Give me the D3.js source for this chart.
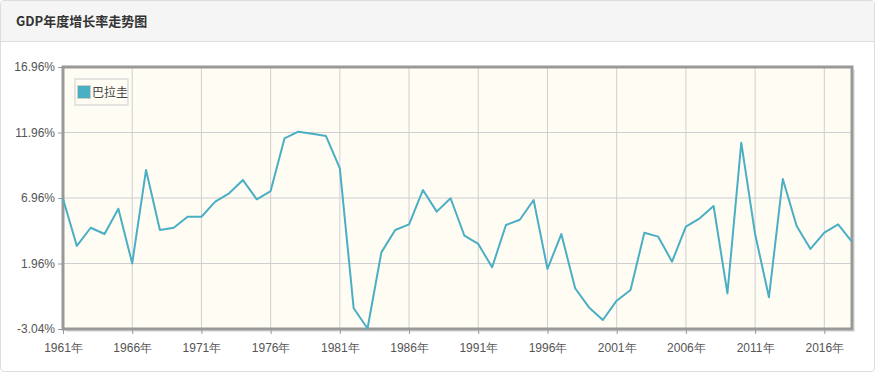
<!DOCTYPE html>
<html>
<head>
<meta charset="utf-8">
<script src="https://cdn.jsdelivr.net/npm/d3@7"></script>
<style>
  body { margin: 0; background: #fff; }
  .panel {
    position: absolute; left: 0; top: 0; width: 873px; height: 370px;
    border: 1px solid #ddd; border-radius: 4px; overflow: hidden; background: #fff;
  }
  .head {
    height: 40px; background: #f5f5f5; border-bottom: 1px solid #ddd;
    font: bold 13px "Noto Sans CJK SC", sans-serif; color: #333;
    line-height: 40px; padding-left: 15px;
  }
  svg { position: absolute; left: 0; top: 0; }
</style>
</head>
<body>
<div class="panel">
  <div class="head">GDP年度增长率走势图</div>
</div>
<script>
// Données : taux de croissance du PIB (%), 1961-2018
const years = d3.range(1961, 2019);
const growth = [6.9, 3.3, 4.69, 4.21, 6.14, 1.97, 9.1, 4.52, 4.69, 5.53,
  5.53, 6.68, 7.32, 8.33, 6.86, 7.49, 11.51, 12.02, 11.86, 11.69,
  9.22, -1.46, -3.0, 2.81, 4.52, 4.95, 7.57, 5.92, 6.94, 4.08,
  3.45, 1.67, 4.9, 5.3, 6.81, 1.54, 4.21, 0.07, -1.39, -2.35,
  -0.88, -0.06, 4.31, 4.01, 2.1, 4.77, 5.41, 6.35, -0.32, 11.18,
  4.21, -0.62, 8.41, 4.82, 3.07, 4.31, 4.95, 3.62];
const yTicks = [-3.04, 1.96, 6.96, 11.96, 16.96];
const xTicks = d3.range(1961, 2019, 5);
const seriesName = "巴拉圭";

const margin = {top: 67, right: 23, bottom: 43, left: 63},
    W = 875, H = 372,
    width = W - margin.left - margin.right,
    height = H - margin.top - margin.bottom;

const svg = d3.select("body").append("svg")
    .attr("width", W).attr("height", H)
    .style("font-family", "'Noto Sans CJK SC', sans-serif");

const g = svg.append("g").attr("transform", `translate(${margin.left},${margin.top})`);

const x = d3.scaleLinear().domain([1961, 2018]).range([0, width]);
const y = d3.scaleLinear().domain([-3.04, 16.96]).range([height, 0]);

// ombre + fond
g.append("rect").attr("x", 3).attr("y", 3).attr("width", width).attr("height", height)
    .attr("fill", "#e6e6e6");
g.append("rect").attr("width", width).attr("height", height).attr("fill", "#fffcf4");

// grille
g.selectAll(".vg").data(xTicks).join("line")
    .attr("x1", d => x(d)).attr("x2", d => x(d))
    .attr("y1", 0).attr("y2", height)
    .attr("stroke", "#cfcfcf").attr("stroke-width", 1);
g.selectAll(".hg").data(yTicks).join("line")
    .attr("x1", 0).attr("x2", width)
    .attr("y1", d => y(d)).attr("y2", d => y(d))
    .attr("stroke", "#cfcfcf").attr("stroke-width", 1);

// axes
const yAxis = g.append("g").call(d3.axisLeft(y).tickValues(yTicks)
    .tickFormat(d => d.toFixed(2) + "%").tickSize(5).tickPadding(3));
const xAxis = g.append("g").attr("transform", `translate(0,${height})`)
    .call(d3.axisBottom(x).tickValues(xTicks).tickFormat(d => d + "年").tickSize(5).tickPadding(9));
[yAxis, xAxis].forEach(a => {
  a.select(".domain").remove();
  a.selectAll("line").attr("stroke", "#999");
  a.selectAll("text").attr("fill", "#555").style("font-size", "12px");
});

// cadre
g.append("rect").attr("width", width).attr("height", height)
    .attr("fill", "none").attr("stroke", "#999").attr("stroke-width", 3);

// courbe
const line = d3.line().x((d, i) => x(years[i])).y(d => y(d));
g.append("path").datum(growth)
    .attr("d", line).attr("fill", "none")
    .attr("stroke", "#4aafc4").attr("stroke-width", 2)
    .attr("stroke-linejoin", "round");

// légende
const lg = g.append("g").attr("transform", "translate(12,12)");
lg.append("rect").attr("width", 53).attr("height", 26)
    .attr("fill", "#fffcf4").attr("stroke", "#ccc");
lg.append("rect").attr("x", 2.5).attr("y", 6.5).attr("width", 13).attr("height", 13)
    .attr("fill", "#4aafc4").attr("stroke", "#ccc");
lg.append("text").attr("x", 17).attr("y", 18)
    .attr("fill", "#444").style("font-size", "12px").text(seriesName);
</script>
</body>
</html>
